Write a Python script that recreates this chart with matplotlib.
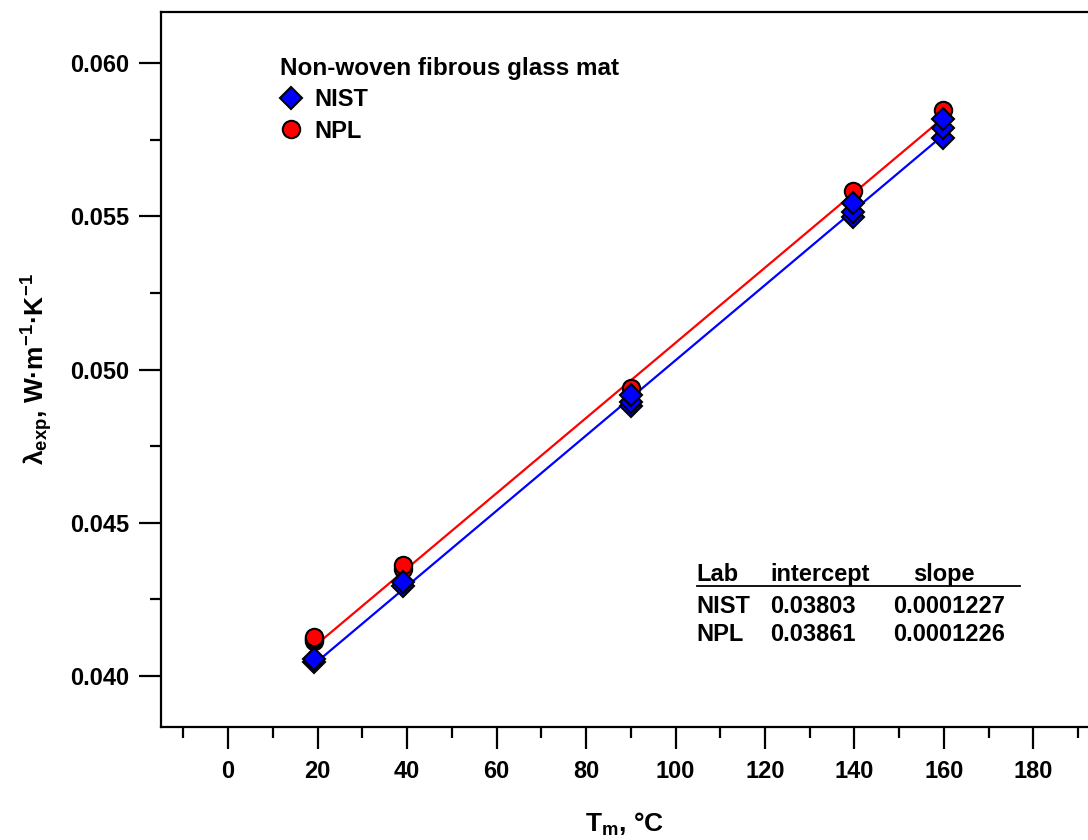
import matplotlib
matplotlib.use("Agg")
import matplotlib.pyplot as plt
import numpy as np
from matplotlib.ticker import MultipleLocator, FormatStrFormatter
from matplotlib.lines import Line2D

plt.rcParams['font.family'] = ['Liberation Sans', 'DejaVu Sans']
plt.rcParams['font.weight'] = 'bold'
plt.rcParams['mathtext.fontset'] = 'custom'
plt.rcParams['mathtext.rm'] = 'Liberation Sans:bold'
plt.rcParams['mathtext.it'] = 'Liberation Sans:bold'
plt.rcParams['mathtext.bf'] = 'Liberation Sans:bold'
plt.rcParams['mathtext.default'] = 'bf'

# data
T_nist = [19.3, 19.3, 39.1, 39.1, 90.0, 90.0, 90.0, 139.7, 139.7, 139.7, 159.8, 159.8, 159.8]
lam_nist = [0.04046, 0.04055, 0.04294, 0.04307, 0.04881, 0.04894, 0.04917,
            0.05498, 0.05514, 0.05543, 0.05755, 0.05788, 0.05817]
T_npl = [19.3, 19.3, 19.3, 39.1, 39.1, 90.0, 139.7, 159.8]
lam_npl = [0.04114, 0.04120, 0.04127, 0.04349, 0.04362, 0.04940, 0.05582, 0.05847]

labs = ["NIST", "NPL"]
intercepts = [0.03803, 0.03861]
slopes = [0.0001227, 0.0001226]

fig = plt.figure(figsize=(10.88, 8.4), dpi=100)
ax = fig.add_axes([0.148, 0.1345, 0.852, 0.8512])

# fit lines
x_fit = np.array([min(T_nist), max(T_nist)])
ax.plot(x_fit, intercepts[1] + slopes[1] * x_fit, color='red', lw=1.6, zorder=2)
ax.plot(x_fit, intercepts[0] + slopes[0] * x_fit, color='blue', lw=1.6, zorder=2)

npl = ax.plot(T_npl, lam_npl, 'o', ms=12.5, mfc='red', mec='black', mew=1.5,
              label='NPL', zorder=3)[0]
nist = ax.plot(T_nist, lam_nist, 'D', ms=11, mfc='blue', mec='black', mew=1.5,
               label='NIST', zorder=4)[0]

ax.set_xlim(-15, 192.2)
ax.set_ylim(0.03834, 0.06166)
ax.set_xticks(range(0, 181, 20))
ax.xaxis.set_minor_locator(MultipleLocator(10))
ax.yaxis.set_major_locator(MultipleLocator(0.005))
ax.yaxis.set_minor_locator(MultipleLocator(0.0025))
ax.yaxis.set_major_formatter(FormatStrFormatter('%.3f'))

for s in ['left', 'bottom', 'top']:
    ax.spines[s].set_linewidth(1.6)
ax.spines['right'].set_visible(False)
ax.tick_params(which='major', direction='out', length=16, width=1.6,
               labelsize=17, pad=7)
ax.tick_params(which='minor', direction='out', length=8, width=1.6)
ax.tick_params(axis='x', which='major', pad=8)
ax.tick_params(top=False, right=False)
for lbl in ax.get_xticklabels() + ax.get_yticklabels():
    lbl.set_fontweight('bold')

ax.set_xlabel(r'T$_{\mathbf{m}}$, °C', fontsize=19, fontweight='bold', labelpad=20)
ax.set_ylabel(r'λ$_{\mathbf{exp}}$, W·m$^{\mathbf{-1}}$·K$^{\mathbf{-1}}$',
              fontsize=19, fontweight='bold', labelpad=11)

ax.legend(handles=[nist, npl], title='Non-woven fibrous glass mat',
          loc='upper left', bbox_to_anchor=(0.128, 0.937), frameon=False,
          alignment='left', prop={'size': 17, 'weight': 'bold'},
          title_fontproperties={'size': 17.5, 'weight': 'bold'},
          handlelength=1.0, handletextpad=0.45, labelspacing=0.35,
          borderpad=0.0, borderaxespad=0.0)

# fit table
col_x = [0.578, 0.657, 0.790]
row_y = [0.159, 0.120]
ax.text(col_x[0], 0.204, 'Lab', transform=ax.transAxes, fontsize=17, va='baseline')
ax.text(col_x[1], 0.204, 'intercept', transform=ax.transAxes, fontsize=17, va='baseline')
ax.text(0.811, 0.204, 'slope', transform=ax.transAxes, fontsize=17, va='baseline')
ax.add_line(Line2D([0.578, 0.927], [0.197, 0.197], transform=ax.transAxes,
                   color='black', lw=1.3))
for i, lab in enumerate(labs):
    ax.text(col_x[0], row_y[i], lab, transform=ax.transAxes, fontsize=17, va='baseline')
    ax.text(col_x[1], row_y[i], '%.5f' % intercepts[i], transform=ax.transAxes,
            fontsize=17, va='baseline')
    ax.text(col_x[2], row_y[i], '%.7f' % slopes[i], transform=ax.transAxes,
            fontsize=17, va='baseline')

fig.savefig('out.png', dpi=100)
